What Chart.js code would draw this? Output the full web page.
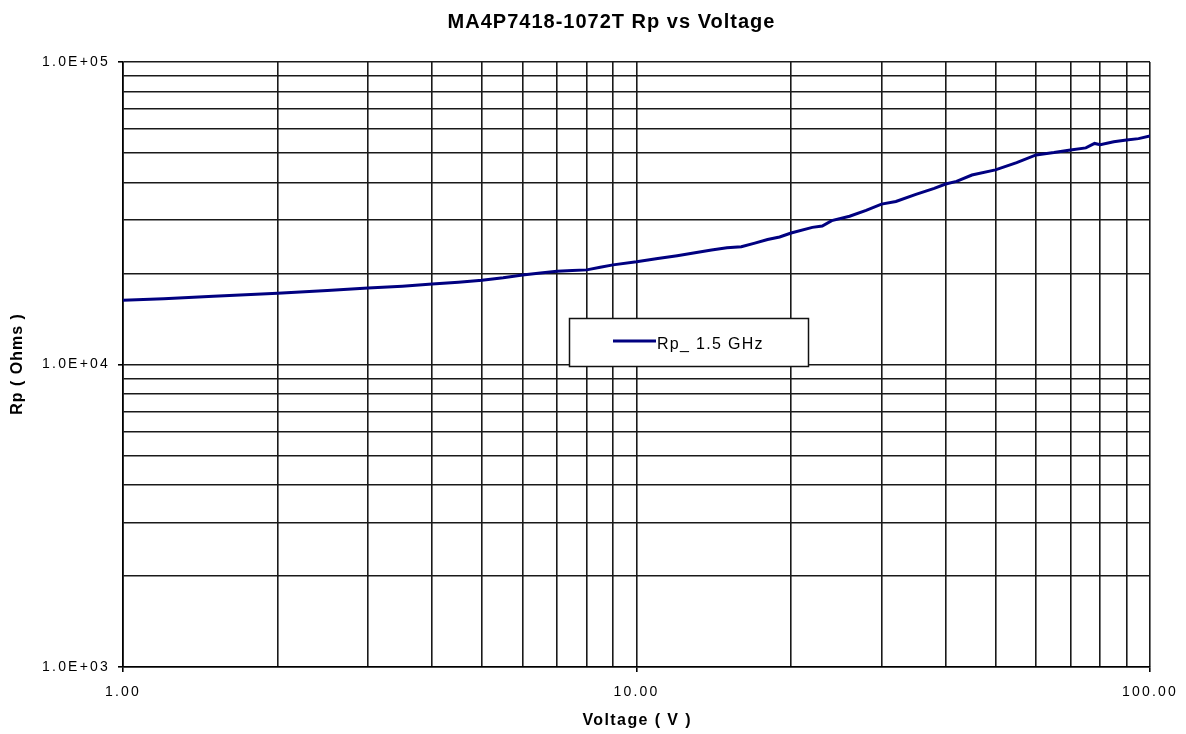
<!DOCTYPE html>
<html>
<head>
<meta charset="utf-8">
<script src="https://cdn.jsdelivr.net/npm/chart.js@4.4.1/dist/chart.umd.min.js"></script>
<style>
html,body{margin:0;padding:0;background:#fff;}
#wrap{width:1186px;height:734px;position:relative;}
</style>
</head>
<body>
<div id="wrap"><canvas id="c" width="1186" height="734"></canvas></div>
<script>
const chartTitle = "MA4P7418-1072T Rp vs Voltage";
const xTitle = "Voltage ( V )";
const yTitle = "Rp ( Ohms )";
const seriesLabel = "Rp_ 1.5 GHz";
const voltages = [1,1.2,1.5,2,2.5,3,3.5,4,4.5,5,5.5,6,6.5,7,7.5,8,8.5,9,10,11,12,13,14,15,16,17,18,19,20,22,23,24,26,28,30,32,35,38,40,42,45,50,55,60,65,70,75,78,80,85,90,95,100];
const rpOhms = [16300,16500,16800,17200,17550,17900,18150,18450,18700,19000,19350,19750,20050,20350,20450,20550,20950,21350,21850,22400,22900,23400,23900,24300,24500,25200,25900,26400,27200,28400,28700,29900,30900,32300,33900,34600,36500,38200,39500,40300,42300,44000,46500,49300,50200,51200,52000,53800,53300,54500,55200,55800,57000];
const xMajorLabels = {1:"1.00",10:"10.00",100:"100.00"};
const yMajorLabels = {1000:"1.0E+03",10000:"1.0E+04",100000:"1.0E+05"};

const FONT = "'Liberation Sans', Arial, sans-serif";

function spacedText(ctx, text, x, y, font, ls, align, rot){
  ctx.save();
  ctx.font = font;
  ctx.fillStyle = "#000";
  ctx.letterSpacing = ls + "px";
  ctx.textBaseline = "middle";
  ctx.translate(x, y);
  if (rot) ctx.rotate(rot);
  const w = ctx.measureText(text).width - ls;
  let sx = 0;
  if (align === 'center') sx = -w/2;
  else if (align === 'right') sx = -w;
  ctx.textAlign = "left";
  ctx.fillText(text, sx, 0);
  ctx.restore();
}

const spacingPlugin = {
  id:'spacing',
  beforeDraw(chart){ chart.ctx.letterSpacing = "2.2px"; },
  afterDraw(chart){ chart.ctx.letterSpacing = "0px"; }
};

const textPlugin = {
  id:'customTexts',
  afterDraw(chart){
    const ctx = chart.ctx;
    const ca = chart.chartArea;
    spacedText(ctx, chartTitle, 611, 22, "bold 20px " + FONT, 1, 'center');
    spacedText(ctx, xTitle, (ca.left+ca.right)/2, 721, "bold 16px " + FONT, 1.4, 'center');
    spacedText(ctx, yTitle, 18, (ca.top+ca.bottom)/2, "bold 16px " + FONT, 1, 'center', -Math.PI/2);
  }
};

const legendPlugin = {
  id:'boxLegend',
  afterDraw(chart){
    const ctx = chart.ctx;
    const ds = chart.data.datasets[0];
    const x0 = 569, y0 = 318, w = 239, h = 48;
    ctx.save();
    ctx.letterSpacing = "0px";
    ctx.fillStyle = "#fff";
    ctx.fillRect(x0, y0, w, h);
    ctx.strokeStyle = "#111";
    ctx.lineWidth = 1.5;
    ctx.strokeRect(x0+0.5, y0+0.5, w, h);
    ctx.strokeStyle = ds.borderColor;
    ctx.lineWidth = 3;
    ctx.beginPath();
    ctx.moveTo(613, 341);
    ctx.lineTo(656, 341);
    ctx.stroke();
    ctx.restore();
    spacedText(ctx, ds.label, 657, 345, "16px " + FONT, 1.3, 'left');
  }
};

new Chart(document.getElementById('c'), {
  type:'line',
  data:{
    datasets:[{
      label: seriesLabel,
      data: voltages.map((v,i)=>({x:v,y:rpOhms[i]})),
      borderColor:'#000080',
      borderWidth:3,
      pointRadius:0,
      tension:0,
      fill:false
    }]
  },
  options:{
    responsive:false,
    animation:false,
    devicePixelRatio:1,
    layout:{padding:{left:0,right:36,top:62,bottom:0}},
    plugins:{legend:{display:false},title:{display:false},tooltip:{enabled:false}},
    scales:{
      x:{
        type:'logarithmic',
        min:1,max:100,
        afterFit(s){ s.height = 734-667; },
        afterBuildTicks(s){
          const t=[];
          for (let d of [1,10]) for (let k=1;k<10;k++) t.push({value:d*k});
          t.push({value:100});
          s.ticks=t;
        },
        ticks:{
          autoSkip:false, maxRotation:0, color:'#000', padding:12,
          font:{family:FONT,size:14},
          callback:(v)=> xMajorLabels[v] || ''
        },
        grid:{
          color:'#1a1a1a', lineWidth:1.6, tickLength:5,
          tickColor:(c)=> (c.tick && xMajorLabels[c.tick.value]) ? '#000' : 'rgba(0,0,0,0)'
        },
        border:{color:'#000',width:1.6},
        title:{display:false}
      },
      y:{
        type:'logarithmic',
        min:1000,max:100000,
        afterFit(s){ s.width = 123; },
        afterBuildTicks(s){
          const t=[];
          for (let d of [1000,10000]) for (let k=1;k<10;k++) t.push({value:d*k});
          t.push({value:100000});
          s.ticks=t;
        },
        ticks:{
          autoSkip:false, color:'#000', padding:8,
          font:{family:FONT,size:14},
          callback:(v)=> yMajorLabels[v] || ''
        },
        grid:{
          color:'#1a1a1a', lineWidth:1.6, tickLength:5,
          tickColor:(c)=> (c.tick && yMajorLabels[c.tick.value]) ? '#000' : 'rgba(0,0,0,0)'
        },
        border:{color:'#000',width:1.6},
        title:{display:false}
      }
    }
  },
  plugins:[spacingPlugin, textPlugin, legendPlugin]
});
</script>
</body>
</html>
